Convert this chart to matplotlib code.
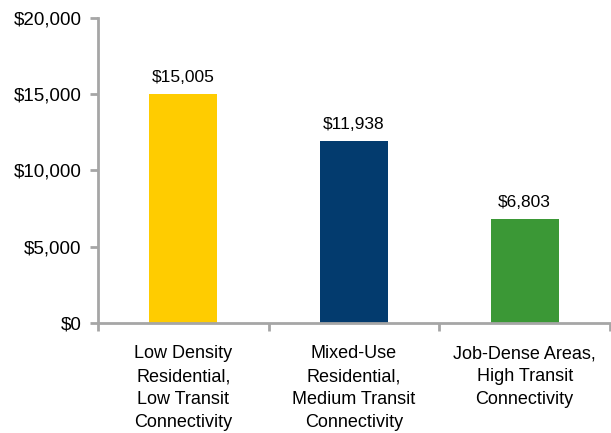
import matplotlib.pyplot as plt
from matplotlib.ticker import FuncFormatter

categories = ["Low Density\nResidential,\nLow Transit\nConnectivity",
              "Mixed-Use\nResidential,\nMedium Transit\nConnectivity",
              "Job-Dense Areas,\nHigh Transit\nConnectivity"]
values = [15005, 11938, 6803]
colors = ["#FFCC00", "#033B6E", "#3B9836"]

plt.rcParams['font.family'] = ['Liberation Sans', 'DejaVu Sans']

fig = plt.figure(figsize=(6.11, 4.33), dpi=100)
ax = fig.add_axes([0.1604, 0.254, 0.838, 0.7045])

x = range(len(values))
ax.bar(x, values, width=0.4, color=colors)
for i, v in enumerate(values):
    ax.text(i, v + 600, "${:,}".format(v), ha="center", va="bottom", fontsize=12.5)

ax.set_xlim(-0.5, 2.5)
ax.set_ylim(0, 20000)
ax.set_yticks([0, 5000, 10000, 15000, 20000])
ax.yaxis.set_major_formatter(FuncFormatter(lambda v, p: "${:,.0f}".format(v)))
ax.set_xticks([-0.5, 0.5, 1.5, 2.5])
ax.set_xticklabels([])
ax.set_xticks(list(x), minor=True)
ax.set_xticklabels(categories, minor=True, fontsize=13, linespacing=1.45)
ax.tick_params(axis="x", which="minor", length=0, pad=16)
ax.tick_params(axis="x", which="major", length=6, width=2, color="#A6A6A6")
ax.tick_params(axis="y", length=6, width=2, color="#A6A6A6", labelsize=13.5, pad=6)

for s in ["top", "right"]:
    ax.spines[s].set_visible(False)
for s in ["left", "bottom"]:
    ax.spines[s].set_color("#A6A6A6")
    ax.spines[s].set_linewidth(2)

fig.savefig("out.png", dpi=100)
